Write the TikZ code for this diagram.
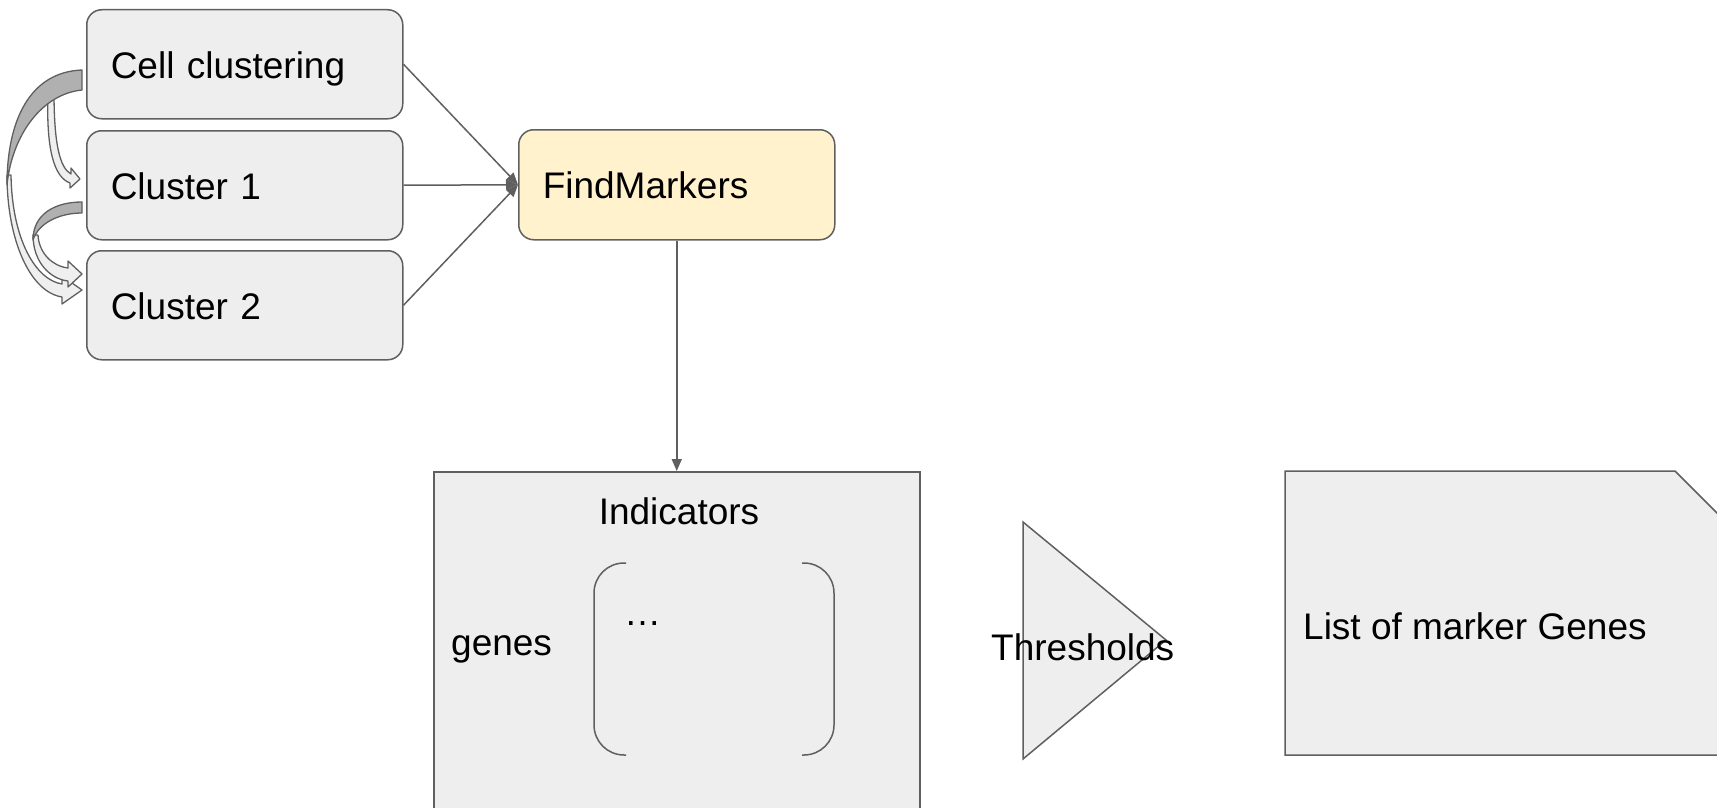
\documentclass[tikz,border=0pt]{standalone}
\usepackage{fontspec}
\setmainfont{Liberation Sans}
\usetikzlibrary{arrows.meta}
\definecolor{edgec}{HTML}{5F5F5F}
\definecolor{boxfill}{HTML}{EEEEEE}
\definecolor{yel}{HTML}{FFF2CC}
\definecolor{backgray}{HTML}{B0B0B0}
\definecolor{frontgray}{HTML}{EFEFEF}
\begin{document}
\begin{tikzpicture}[x=1pt,y=-1pt,
  every node/.style={font=\fontsize{37}{44}\selectfont, text=black},
  box/.style={draw=edgec, line width=1.5pt, fill=boxfill, rounded corners=15pt,
    anchor=north west, minimum width=316pt, text width=268pt, inner xsep=24pt,
    align=left, text height=28pt, text depth=0pt},
  plain/.style={draw=edgec, line width=1.5pt, fill=boxfill},
  conn/.style={color=edgec, line width=1.5pt, -{Triangle[length=12pt,width=10pt]}},
  cband/.style={draw=edgec, line width=1.3pt, line join=round},
  lbl/.style={inner sep=0pt}
]
\useasboundingbox (0,0) rectangle (1717,808);
\clip (0,0) rectangle (1717,808);

% left boxes
\node[box, minimum height=109pt] (cc) at (86,9) {Cell clustering};
\node[box, minimum height=109pt] (c1) at (86,130) {Cluster 1};
\node[box, minimum height=109pt] (c2) at (86,250) {Cluster 2};
\node[box, fill=yel, minimum height=110pt] (fm) at (518,129) {FindMarkers};

% connectors
\draw[conn] (cc.east) -- (fm.west);
\draw[conn] (c1.east) -- (fm.west);
\draw[conn] (c2.east) -- (fm.west);

% curved block arrows on the left
% small arrow: Cell clustering -> Cluster 1
\filldraw[cband, fill=frontgray] (48,92) .. controls (46,150) and (54,177) .. (70,183)
  -- (70,188) -- (80,179) -- (71,168) -- (71,174)
  .. controls (60,168) and (54,145) .. (54,92) -- cycle;
% big arrow: Cell clustering -> Cluster 2
\filldraw[cband, fill=frontgray] (7,175) .. controls (7,240) and (30,292) .. (62,297)
  -- (62,304) -- (82,290) -- (62,276) -- (62,284)
  .. controls (36,280) and (12,240) .. (11,175) -- cycle;
\filldraw[cband, fill=backgray] (82,70) .. controls (30,72) and (7,120) .. (7,185)
  .. controls (12,135) and (42,94) .. (82,90) -- cycle;
% arrow: Cluster 1 -> Cluster 2
\filldraw[cband, fill=frontgray] (33,235) .. controls (33,262) and (50,279) .. (68,281)
  -- (68,287) -- (82,274) -- (68,261) -- (68,268)
  .. controls (52,266) and (39,253) .. (38,235) -- cycle;
\filldraw[cband, fill=backgray] (82,202) .. controls (55,202) and (33,214) .. (33,240)
  .. controls (38,224) and (58,213) .. (82,213) -- cycle;

% Indicators matrix box
\node[plain, anchor=north west, minimum width=486pt, minimum height=360pt] (ind) at (433,471) {};
\draw[conn] (fm.south) -- (ind.north);
\node[lbl, anchor=base] (indt) at (679,524) {Indicators};
\node[lbl, anchor=base west] (genes) at (451,655) {genes};
\node[lbl, anchor=base west] (dots) at (624,625) {…};
\draw[edgec, line width=1.5pt, rounded corners=30pt] (626,563) -- (594,563) -- (594,755) -- (626,755);
\draw[edgec, line width=1.5pt, rounded corners=30pt] (802,563) -- (834,563) -- (834,755) -- (802,755);

% Thresholds triangle
\filldraw[plain] (1023,522) -- (1166,640) -- (1023,759) -- cycle;
\node[lbl, anchor=base west] (thr) at (991,660) {Thresholds};

% List of marker genes (cut-corner box)
\filldraw[plain] (1285,471) -- (1675,471) -- (1760,556) -- (1760,755) -- (1285,755) -- cycle;
\node[lbl, anchor=base west] (list) at (1303,639) {List of marker Genes};
\end{tikzpicture}
\end{document}
